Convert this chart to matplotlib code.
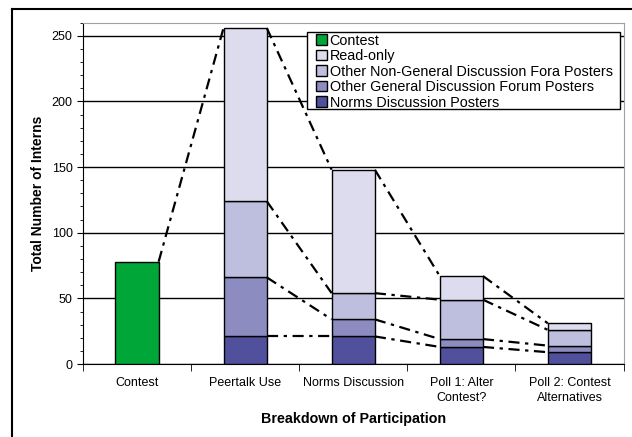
import matplotlib.pyplot as plt
from matplotlib.lines import Line2D
from matplotlib.patches import Patch, Rectangle
import numpy as np

plt.rcParams['font.family'] = ['Liberation Sans', 'DejaVu Sans']

# データ
categories = ["Contest", "Peertalk Use", "Norms Discussion",
              "Poll 1: Alter\nContest?", "Poll 2: Contest\nAlternatives"]
contest = [78, 0, 0, 0, 0]
norms = [0, 21, 21, 13, 9]
general = [0, 45, 13, 6, 5]
nongeneral = [0, 58, 20, 30, 12]
readonly = [0, 132, 94, 18, 5]

series = [
    ("Norms Discussion Posters", norms, "#50509c"),
    ("Other General Discussion Forum Posters", general, "#8c8cc0"),
    ("Other Non-General Discussion Fora Posters", nongeneral, "#bebedf"),
    ("Read-only", readonly, "#dcdcee"),
]

fig = plt.figure(figsize=(6.32, 4.37), dpi=100)
ax = fig.add_axes([0.1313, 0.167, 0.8553, 0.781])

x = np.arange(len(categories))
w = 0.4

ax.bar(x[0], contest[0], w, color="#00a638", edgecolor="black", lw=1, zorder=3)

bottom = np.zeros(len(categories))
tops = []  # 各段の上端
for name, vals, col in series:
    vals = np.array(vals, dtype=float)
    ax.bar(x[1:], vals[1:], w, bottom=bottom[1:], color=col,
           edgecolor="black", lw=1, zorder=3)
    bottom = bottom + vals
    tops.append(bottom.copy())

# 棒同士をつなぐ線
dash = (0, (5, 2.5, 1.5, 2.5))
ax.plot([x[0] + w / 2, x[1] - w / 2], [contest[0], tops[-1][1]],
        color="black", lw=1.6, linestyle=dash, zorder=4)
for i in range(1, len(categories) - 1):
    for t in tops:
        ax.plot([x[i] + w / 2, x[i + 1] - w / 2], [t[i], t[i + 1]],
                color="black", lw=1.6, linestyle=dash, zorder=4)

ax.set_xlim(-0.5, 4.5)
ax.set_ylim(0, 260)
ax.set_yticks(np.arange(0, 251, 50))
ax.set_yticks(np.arange(0, 261, 10), minor=True)
ax.yaxis.grid(True, color="black", lw=1)
ax.set_axisbelow(True)

ax.set_xticks(x)
ax.set_xticklabels(categories, fontsize=9, linespacing=1.4)
ax.tick_params(axis="x", length=0, pad=9)
ax.set_xticks(np.arange(-0.5, 4.6, 1), minor=True)
ax.tick_params(axis="x", which="minor", length=5, direction="out", color="black")
ax.tick_params(axis="y", which="major", length=4, labelsize=9, direction="out")
ax.tick_params(axis="y", which="minor", length=2, direction="out")

for s in ["top", "right"]:
    ax.spines[s].set_color("#a0a0a0")
for s in ["left", "bottom"]:
    ax.spines[s].set_color("black")

ax.set_ylabel("Total Number of Interns", fontsize=10, fontweight="bold", labelpad=5)
ax.set_xlabel("Breakdown of Participation", fontsize=10.3, fontweight="bold", labelpad=6)

handles = [Patch(facecolor="#00a638", edgecolor="black", label="Contest")]
for name, vals, col in reversed(series):
    handles.append(Patch(facecolor=col, edgecolor="black", label=name))

# 凡例の枠
ax.add_patch(Rectangle((0.4144, 0.747), 0.9935 - 0.4144, 0.9727 - 0.747,
                       transform=ax.transAxes, facecolor="white", edgecolor="black",
                       lw=1, zorder=5, clip_on=False))
leg = ax.legend(handles=handles, loc="upper left", bbox_to_anchor=(0.428, 0.972),
                borderaxespad=0, frameon=False,
                fontsize=10.4, labelspacing=0.1, handlelength=0.75, handleheight=0.75,
                handletextpad=0.2, borderpad=0.1)
leg.set_zorder(6)

# 外枠（左と上）
fig.add_artist(Line2D([12 / 632, 12 / 632], [0, 1 - 9 / 437], color="black", lw=1.5))
fig.add_artist(Line2D([12 / 632, 1], [1 - 9 / 437, 1 - 9 / 437], color="black", lw=1.5))

fig.savefig("out.png", dpi=100)
